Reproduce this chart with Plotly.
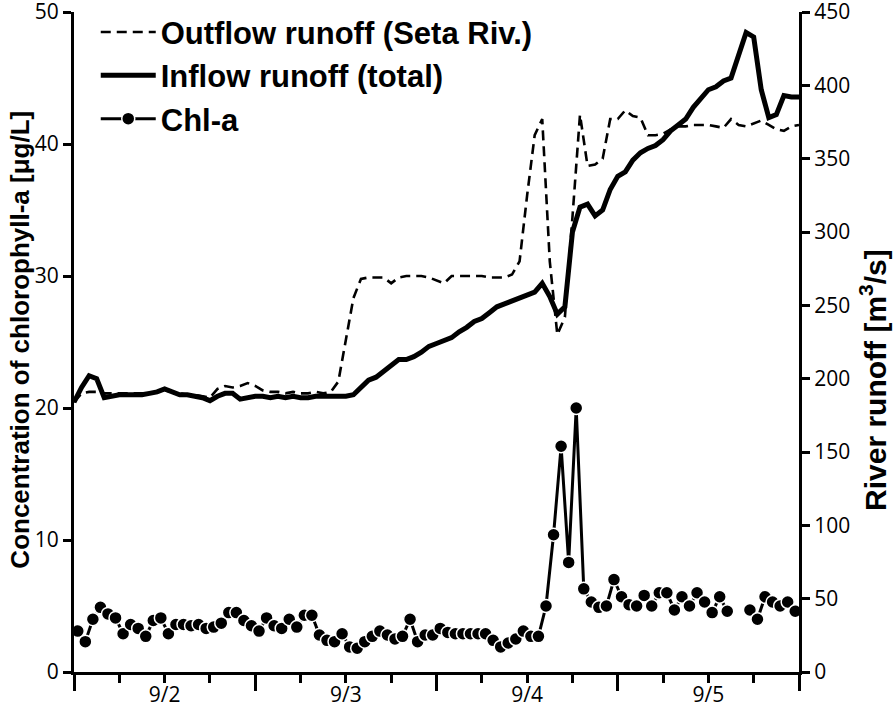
import pandas as pd
import plotly.graph_objects as go

# ---------------- data ----------------
runoff_start = "2013-09-02 00:00"
chl_start = "2013-09-02 00:30"

outflow = [184, 190, 191, 191, 190, 190, 190, 190, 190, 190, 190, 191, 192, 191, 190, 189,
           189, 188, 187, 193, 195, 194, 195, 197, 195, 192, 191, 191, 190, 191, 190, 190,
           191, 190, 191, 198, 228, 255, 268, 269, 269, 269, 265, 269, 270, 270, 270, 269,
           267, 265, 270, 270, 270, 270, 270, 269, 269, 269, 271, 280, 325, 366, 377, 280,
           230, 242, 310, 380, 345, 346, 350, 377, 377, 383, 379, 378, 366, 366, 367, 370,
           372, 372, 373, 373, 373, 372, 371, 377, 373, 372, 374, 376, 373, 370, 369, 372, 373]

inflow = [184, 194, 202, 200, 187, 188, 189, 189, 189, 189, 190, 191, 193, 191, 189, 189,
          188, 187, 185, 188, 190, 190, 186, 187, 188, 188, 187, 188, 187, 188, 187, 187,
          188, 188, 188, 188, 188, 189, 194, 199, 201, 205, 210, 213, 213, 215, 218, 222,
          224, 226, 228, 232, 235, 239, 241, 245, 249, 251, 253, 255, 257, 259, 265, 256,
          244, 249, 300, 317, 319, 311, 315, 329, 338, 341, 349, 354, 357, 359, 363, 369,
          373, 377, 385, 391, 397, 399, 403, 405, 421, 436, 433, 397, 378, 380, 393, 392, 392]

chla = [3.1, 2.3, 4.0, 4.9, 4.4, 4.1, 2.9, 3.6, 3.3, 2.7, 3.9, 4.1, 2.9, 3.6, 3.6, 3.5,
        3.6, 3.3, 3.4, 3.7, 4.5, 4.5, 3.9, 3.5, 3.1, 4.1, 3.5, 3.3, 4.0, 3.4, 4.3, 4.3,
        2.8, 2.4, 2.3, 2.9, 1.9, 1.8, 2.3, 2.7, 3.1, 2.8, 2.5, 2.7, 4.0, 2.3, 2.8, 2.8,
        3.3, 3.0, 2.9, 2.9, 2.9, 2.9, 2.9, 2.4, 1.9, 2.2, 2.5, 3.1, 2.7, 2.7,
        5.0, 10.4, 17.1, 8.3, 20.0, 6.3, 5.3, 4.9, 5.0, 7.0, 5.7, 5.1, 5.0, 5.8, 5.0, 6.0,
        6.0, 4.7, 5.7, 5.0, 6.0, 5.3, 4.5, 5.7, 4.6, None, None, 4.7, 4.0, 5.7, 5.3, 5.0,
        5.3, 4.6]

runoff_time = pd.date_range(runoff_start, periods=len(inflow), freq="h")
chl_time = pd.date_range(chl_start, periods=len(chla), freq="h")

x_range = ["2013-09-02 00:00", "2013-09-06 00:00"]
left_ticks = [0, 10, 20, 30, 40, 50]
right_ticks = [0, 50, 100, 150, 200, 250, 300, 350, 400, 450]

left_title = "Concentration of chlorophyll-a [μg/L]"
right_title = "River runoff [m<sup>3</sup>/s]"

# ---------------- figure ----------------
fig = go.Figure()

fig.add_trace(go.Scatter(
    x=runoff_time, y=outflow, yaxis="y2", mode="lines",
    name="Outflow runoff (Seta Riv.)",
    line=dict(color="black", width=2.6, dash="10px,6px"),
))
fig.add_trace(go.Scatter(
    x=runoff_time, y=inflow, yaxis="y2", mode="lines",
    name="Inflow runoff (total)",
    line=dict(color="black", width=5),
))
fig.add_trace(go.Scatter(
    x=chl_time, y=chla, yaxis="y", mode="lines+markers",
    name="Chl-a", connectgaps=False,
    line=dict(color="black", width=3),
    marker=dict(symbol="circle", size=13, color="black",
                line=dict(color="white", width=1.5)),
))

tick_font = dict(family="Open Sans, Liberation Sans, sans-serif", size=21, color="black")
title_font = dict(family="Liberation Sans, Arial, sans-serif", size=26, color="black",
                  weight="bold")
right_title_font = dict(family="Liberation Sans, Arial, sans-serif", size=30, color="black",
                        weight="bold")

fig.update_layout(
    width=894, height=712,
    margin=dict(l=74, r=95, t=12, b=40, autoexpand=False),
    paper_bgcolor="white", plot_bgcolor="white",
    showlegend=True,
    legend=dict(
        x=0.03, y=1.01, xanchor="left", yanchor="top",
        bgcolor="rgba(0,0,0,0)",
        font=dict(family="Liberation Sans, Arial, sans-serif", size=31, color="black",
                  weight="bold"),
        itemwidth=55,
        tracegroupgap=0,
    ),
    xaxis=dict(
        type="date", range=x_range, automargin=False,
        tick0="2013-09-02", dtick=86400000,
        tickformat="%-m/%-d", ticklabelmode="period",
        ticklabelstandoff=-14,
        ticks="outside", ticklen=16, tickwidth=3, tickcolor="black",
        minor=dict(dtick=6 * 3600000, ticks="outside", ticklen=8, tickwidth=3,
                   tickcolor="black", showgrid=False),
        showline=True, linewidth=3, linecolor="black",
        showgrid=False, zeroline=False,
        tickfont=tick_font,
    ),
    yaxis=dict(
        range=[0, 50], tickvals=left_ticks, automargin=False,
        ticklabeloverflow="allow",
        ticks="outside", ticklen=8, tickwidth=3, tickcolor="black",
        showline=True, linewidth=3, linecolor="black",
        showgrid=False, zeroline=False,
        tickfont=tick_font,
    ),
    yaxis2=dict(
        range=[0, 450], tickvals=right_ticks, automargin=False,
        ticklabeloverflow="allow",
        overlaying="y", side="right",
        ticks="outside", ticklen=8, tickwidth=3, tickcolor="black",
        showline=True, linewidth=3, linecolor="black",
        showgrid=False, zeroline=False,
        tickfont=tick_font,
    ),
    annotations=[
        dict(text=left_title, xref="paper", yref="paper",
             x=-0.075, y=0.503, xanchor="center", yanchor="middle",
             textangle=-90, showarrow=False, font=title_font),
        dict(text=right_title, xref="paper", yref="paper",
             x=1.103, y=0.442, xanchor="center", yanchor="middle",
             textangle=-90, showarrow=False, font=right_title_font),
    ],
)

# remove the page's default 8 px body margin so the figure fills the window
fig.write_html("out.html", config={"displayModeBar": False},
               post_script="document.body.style.margin='0px';")
